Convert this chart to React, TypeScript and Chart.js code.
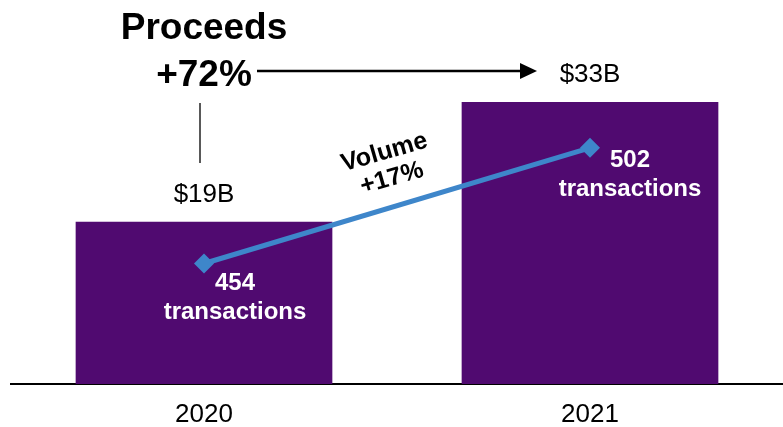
import React, { useEffect, useRef } from "react";
import { Chart, registerables } from "chart.js";

Chart.register(...registerables);

const categories = ["2020", "2021"];
const proceeds = [19, 33]; // $B
const transactions = [454, 502];
const proceedsLabels = ["$19B", "$33B"];
const proceedsGrowth = "+72%";
const volumeTitle = "Volume";
const volumeGrowth = "+17%";
const heading = "Proceeds";
const pointCaption = "transactions";

const PURPLE = "#500a70";
const BLUE = "#3e86ca";
const FONT = "'Liberation Sans', Arial, Helvetica, sans-serif";

const annotationsPlugin = {
  id: "annotations",
  afterDatasetsDraw(chart: any) {
    const ctx = chart.ctx as CanvasRenderingContext2D;
    const bars = chart.getDatasetMeta(0).data;
    const pts = chart.getDatasetMeta(1).data;
    ctx.save();
    ctx.textAlign = "center";
    ctx.textBaseline = "middle";

    // bar value labels
    ctx.fillStyle = "#000";
    ctx.font = `26px ${FONT}`;
    bars.forEach((b: any, i: number) => ctx.fillText(proceedsLabels[i], b.x, b.y - 27));

    // transaction labels
    ctx.fillStyle = "#fff";
    ctx.font = `bold 24px ${FONT}`;
    const offs = [
      [31, 20],
      [40, 13],
    ];
    pts.forEach((p: any, i: number) => {
      ctx.fillText(String(transactions[i]), p.x + offs[i][0], p.y + offs[i][1]);
      ctx.fillText(pointCaption, p.x + offs[i][0], p.y + offs[i][1] + 29);
    });

    // Proceeds heading
    const cx = bars[0].x;
    ctx.fillStyle = "#000";
    ctx.font = `bold 37px ${FONT}`;
    ctx.fillText(heading, cx, 29);
    ctx.fillText(proceedsGrowth, cx, 76);

    // vertical connector
    ctx.strokeStyle = "#222";
    ctx.lineWidth = 1.5;
    ctx.beginPath();
    ctx.moveTo(cx - 4, 103);
    ctx.lineTo(cx - 4, 163);
    ctx.stroke();

    // arrow
    const ay = 71;
    const ax0 = cx + 53;
    const ax1 = bars[1].x - 53;
    ctx.strokeStyle = "#000";
    ctx.lineWidth = 2.5;
    ctx.beginPath();
    ctx.moveTo(ax0, ay);
    ctx.lineTo(ax1 - 14, ay);
    ctx.stroke();
    ctx.fillStyle = "#000";
    ctx.beginPath();
    ctx.moveTo(ax1, ay);
    ctx.lineTo(ax1 - 17, ay - 8);
    ctx.lineTo(ax1 - 17, ay + 8);
    ctx.closePath();
    ctx.fill();

    // rotated volume label
    ctx.save();
    ctx.translate(388, 165);
    ctx.rotate((-16 * Math.PI) / 180);
    ctx.font = `bold 25px ${FONT}`;
    ctx.fillText(volumeTitle, 0, -13);
    ctx.fillText(volumeGrowth, 0, 14);
    ctx.restore();

    ctx.restore();
  },
};

export default function App() {
  const ref = useRef<HTMLCanvasElement>(null);
  useEffect(() => {
    document.body.style.margin = "0";
    document.body.style.overflow = "hidden";
    const chart = new Chart(ref.current!, {
      type: "bar",
      data: {
        labels: categories,
        datasets: [
          {
            type: "bar",
            data: proceeds,
            backgroundColor: PURPLE,
            borderWidth: 0,
            categoryPercentage: 1,
            barPercentage: 0.665,
            yAxisID: "y",
            order: 2,
          },
          {
            type: "line",
            data: transactions,
            borderColor: BLUE,
            backgroundColor: BLUE,
            borderWidth: 5,
            pointStyle: "rectRot",
            pointRadius: 10,
            pointBorderWidth: 0,
            tension: 0,
            clip: false,
            yAxisID: "y1",
            order: 1,
          } as any,
        ],
      },
      options: {
        responsive: false,
        animation: false,
        layout: { autoPadding: false, padding: { left: 11, right: -4, top: 8, bottom: -19 } },
        plugins: { legend: { display: false }, tooltip: { enabled: false } },
        scales: {
          x: {
            grid: { display: false, drawTicks: false },
            border: { display: true, color: "#000", width: 2 },
            ticks: { color: "#000", font: { family: FONT, size: 26, lineHeight: 1 }, padding: 18 },
          },
          y: { display: false, min: 0, max: 44 },
          y1: { display: false, min: 404, max: 560 },
        },
      },
      plugins: [annotationsPlugin],
    });
    return () => chart.destroy();
  }, []);
  return (
    <div style={{ width: 783, height: 427 }}>
      <canvas ref={ref} width={783} height={427} />
    </div>
  );
}
